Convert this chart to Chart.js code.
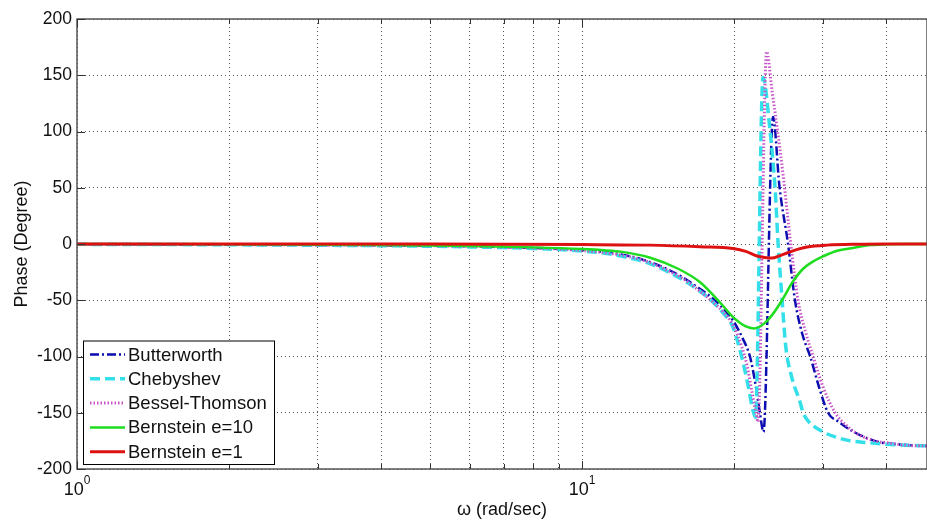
<!DOCTYPE html>
<html>
<head>
<meta charset="utf-8">
<script src="https://cdn.jsdelivr.net/npm/chart.js@4"></script>
<style>
  body { margin: 0; background: #fff; }
  #wrap { width: 927px; height: 523px; }
</style>
</head>
<body>
<div id="wrap"><canvas id="phaseChart" width="927" height="523"></canvas></div>
<script>

// phase response (degrees) against frequency (rad/sec)
var butterworthW = [1, 2, 3, 4, 5, 6, 7, 8, 9, 10, 11, 12, 13, 14, 15, 16, 17, 18, 19, 19.9, 20.75, 21.5, 22.0, 22.5, 22.87, 23.89, 24.6, 25.58, 26.4, 27.3, 28.3, 29.5, 30.7, 32.2, 33.9, 36.0, 38.6, 42.0, 45.0, 48.2];
var butterworthPhase = [-0.2, -0.5, -0.8, -1.2, -1.6, -2.1, -2.7, -3.4, -4.3, -5.5, -7, -9.5, -13, -18, -24, -31, -39, -47, -57, -68, -83, -100, -122, -150, -167, 113, 51, 0, -50, -80, -100, -128, -150, -158, -165, -171, -176, -178, -179, -179.5];

var chebyshevW = [1, 2, 3, 4, 5, 6, 7, 8, 9, 10, 11, 12, 13, 14, 15, 16, 17, 18, 19, 19.9, 20.7, 21.3, 21.8, 22.05, 22.82, 23.56, 24.1, 24.45, 24.9, 25.3, 26, 27, 27.4, 28, 30, 32, 34, 36.7, 40, 44, 48.2];
var chebyshevPhase = [-0.3, -0.7, -1.1, -1.5, -2, -2.6, -3.2, -4, -5, -6.3, -8, -11, -14.5, -19.5, -26, -33, -41, -50, -61, -74, -100, -125, -148, -154, 148, 101, 51, 0, -50, -90, -118, -140, -150, -157, -167, -172, -175, -176.5, -178, -179, -179.3];

var besselW = [1, 2, 3, 4, 5, 6, 7, 8, 9, 10, 11, 12, 13, 14, 15, 16, 17, 18, 19, 19.9, 20.74, 21.22, 21.71, 22.1, 22.3, 23.2, 23.8, 24.4, 25.0, 25.9, 26.77, 27.7, 28.68, 30, 31.7, 33.5, 35.5, 38, 40.7, 44, 48.2];
var besselPhase = [-0.2, -0.5, -0.8, -1.2, -1.6, -2.1, -2.7, -3.5, -4.5, -5.8, -7.5, -10, -13.5, -18.5, -25, -32, -41, -50, -60, -72, -92, -108, -132, -150, -158, 171, 135, 100, 62, 0, -50, -78, -100, -127, -150, -162, -170, -175, -177, -179, -179.5];

var bernstein10W = [1, 2, 4, 6, 8, 10, 11, 12, 13.6, 15.5, 17.13, 18.76, 19.91, 21.05, 21.9, 22.9, 23.8, 24.89, 26.1, 27.4, 29.07, 30, 32, 34.4, 37.2, 40, 44, 48.2];
var bernstein10Phase = [0, -0.3, -0.8, -1.8, -3, -4.5, -5.5, -7, -12, -22, -34, -52, -65, -73, -75, -71, -63, -50, -34, -22, -14, -11, -6, -3.5, -1, -0.3, 0, 0];

var bernstein1W = [1, 5, 10, 13.6, 17.13, 19.9, 21.1, 22.2, 23, 23.78, 24.6, 25.46, 26.6, 27.9, 30.6, 35, 40, 48.2];
var bernstein1Phase = [0, -0.1, -0.5, -1, -2.5, -4, -6.5, -10.7, -12, -12.5, -10.5, -8, -5, -2.7, -1, -0.2, 0, 0];

var seriesNames = ['Butterworth', 'Chebyshev', 'Bessel-Thomson', 'Bernstein e=10', 'Bernstein e=1'];

// axis ticks
var xGridValues = [1, 2, 3, 4, 5, 6, 7, 8, 9, 10, 20, 30, 40];
var xLabelValues = [1, 10];
var yTickValues = [-200, -150, -100, -50, 0, 50, 100, 150, 200];
var xMin = 1, xMax = 48.2;

var FONT = "'Liberation Sans', Arial, Helvetica, sans-serif";

function pts(w, p) {
	return w.map(function (v, i) { return { x: v, y: p[i] }; });
}

function lineSet(label, w, p, color, width, dash, order) {
	return {
		label: label,
		data: pts(w, p),
		borderColor: color,
		borderWidth: width,
		borderDash: dash,
		pointRadius: 0,
		fill: false,
		cubicInterpolationMode: 'monotone',
		order: order
	};
}

// frame, inward tick marks, x decade labels and the boxed legend
var matlabFrame = {
	id: 'matlabFrame',
	afterDraw: function (chart) {
		var ctx = chart.ctx;
		var a = chart.chartArea;
		var xs = chart.scales.x, ys = chart.scales.y;
		ctx.save();

		ctx.strokeStyle = '#555';
		ctx.lineWidth = 1.5;
		ctx.setLineDash([]);
		ctx.strokeRect(a.left, a.top, a.right - a.left, a.bottom - a.top);

		ctx.lineWidth = 1;
		ctx.strokeStyle = '#333';
		ctx.beginPath();
		xGridValues.forEach(function (v) {
			var px = Math.round(xs.getPixelForValue(v)) + 0.5;
			var len = (v === 1 || v === 10) ? 8 : 5;
			ctx.moveTo(px, a.bottom); ctx.lineTo(px, a.bottom - len);
			ctx.moveTo(px, a.top); ctx.lineTo(px, a.top + len);
		});
		yTickValues.forEach(function (v) {
			var py = Math.round(ys.getPixelForValue(v)) + 0.5;
			ctx.moveTo(a.left, py); ctx.lineTo(a.left + 8, py);
		});
		ctx.stroke();

		// 10^n labels under the axis
		ctx.fillStyle = '#111';
		ctx.textBaseline = 'alphabetic';
		xLabelValues.forEach(function (v) {
			var px = xs.getPixelForValue(v);
			var exp = String(Math.round(Math.log10(v)));
			ctx.font = '18px ' + FONT;
			var wBase = ctx.measureText('10').width;
			ctx.font = '12px ' + FONT;
			var wExp = ctx.measureText(exp).width;
			var x0 = px - (wBase + wExp) / 2;
			ctx.font = '18px ' + FONT;
			ctx.textAlign = 'left';
			ctx.fillText('10', x0, a.bottom + 26);
			ctx.font = '12px ' + FONT;
			ctx.fillText(exp, x0 + wBase, a.bottom + 15);
		});

		// legend box in the lower left corner
		var sets = chart.data.datasets;
		var rowH = 24.3;
		var bx = a.left + 6, bw = 191;
		var bh = rowH * sets.length + 2;
		var by = a.bottom - 5 - bh;
		ctx.fillStyle = '#fff';
		ctx.fillRect(bx, by, bw, bh);
		ctx.strokeStyle = '#000';
		ctx.lineWidth = 1;
		ctx.strokeRect(bx + 0.5, by + 0.5, bw, bh);
		ctx.font = '18.5px ' + FONT;
		ctx.textBaseline = 'middle';
		ctx.textAlign = 'left';
		sets.forEach(function (ds, i) {
			var cy = by + 14 + i * rowH;
			ctx.strokeStyle = ds.borderColor;
			ctx.lineWidth = ds.borderWidth;
			ctx.setLineDash(ds.borderDash || []);
			ctx.beginPath();
			ctx.moveTo(bx + 7, cy);
			ctx.lineTo(bx + 42, cy);
			ctx.stroke();
			ctx.setLineDash([]);
			ctx.fillStyle = '#111';
			ctx.fillText(ds.label, bx + 45, cy + 1);
		});

		ctx.restore();
	}
};

var ctx = document.getElementById('phaseChart').getContext('2d');
var phaseChart = new Chart(ctx, {
	type: 'line',
	data: {
		datasets: [
			lineSet(seriesNames[0], butterworthW, butterworthPhase, '#0c0cb0', 2.5, [9, 3, 2, 3], 5),
			lineSet(seriesNames[1], chebyshevW, chebyshevPhase, '#33dfe8', 3.5, [10, 5], 4),
			lineSet(seriesNames[2], besselW, besselPhase, '#c855c8', 3, [1.5, 2], 3),
			lineSet(seriesNames[3], bernstein10W, bernstein10Phase, '#1edc1e', 2.5, [], 2),
			lineSet(seriesNames[4], bernstein1W, bernstein1Phase, '#dd1111', 3, [], 1)
		]
	},
	options: {
		responsive: false,
		animation: false,
		devicePixelRatio: 1,
		layout: { padding: { top: 19, right: 0, bottom: 0, left: 0 } },
		plugins: {
			legend: { display: false },
			tooltip: { enabled: false }
		},
		scales: {
			x: {
				type: 'logarithmic',
				min: xMin,
				max: xMax,
				afterBuildTicks: function (s) {
					s.ticks = xGridValues.map(function (v) { return { value: v }; });
				},
				afterFit: function (s) { s.height = 54; },
				ticks: {
					autoSkip: false,
					maxRotation: 0,
					callback: function () { return ''; }
				},
				grid: { color: '#555', lineWidth: 1, drawTicks: false },
				border: { display: false, dash: [1, 3] },
				title: {
					display: true,
					text: 'ω (rad/sec)',
					color: '#111',
					font: { family: FONT, size: 18 },
					padding: { top: 0, bottom: 2 }
				}
			},
			y: {
				min: -200,
				max: 200,
				afterBuildTicks: function (s) {
					s.ticks = yTickValues.map(function (v) { return { value: v }; });
				},
				afterFit: function (s) { s.width = 77; },
				ticks: {
					color: '#111',
					padding: 5,
					font: { family: FONT, size: 17.5 }
				},
				grid: { color: '#555', lineWidth: 1, drawTicks: false },
				border: { display: false, dash: [1, 3] },
				title: {
					display: true,
					text: 'Phase (Degree)',
					color: '#111',
					font: { family: FONT, size: 18 },
					padding: { top: 11, bottom: 0 }
				}
			}
		}
	},
	plugins: [matlabFrame]
});
</script>
</body>
</html>
